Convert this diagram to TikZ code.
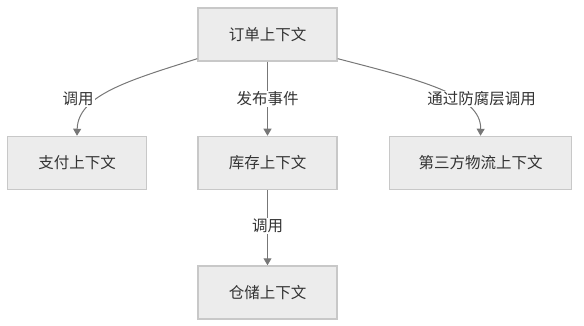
\documentclass[tikz,border=0pt]{standalone}
\usepackage{fontspec}
\setmainfont{Noto Sans CJK SC}
\usepackage{xcolor}
\usetikzlibrary{
    positioning,
    arrows.meta
}

\definecolor{boxfill}{HTML}{ECECEC}
\definecolor{boxline}{HTML}{C8C8C8}
\definecolor{textgray}{HTML}{333333}
\definecolor{linegray}{HTML}{777777}

\begin{document}
\begin{tikzpicture}[
    x=1pt, y=-1pt,
    font=\fontsize{15.5pt}{18pt}\selectfont,
    box/.style={
        rectangle,
        draw=boxline,
        fill=boxfill,
        line width=1.5pt,
        text=textgray,
        align=center,
        inner xsep=29pt,
        minimum width=139pt,
        minimum height=53pt
    },
    lbl/.style={
        fill=white,
        text=textgray,
        inner sep=1pt
    },
    arrow/.style={
        draw=linegray,
        line width=1pt,
        -{Triangle[width=8pt,length=7pt]}
    }
]
\useasboundingbox (0,0) rectangle (584,326);

\node[box] at (267.5,34.5) (order) {订单上下文};
\node[box, below=74pt of order] (stock) {库存上下文};
\node[box, left=50pt of stock] (pay) {支付上下文};
\node[box, right=51pt of stock] (logistics) {第三方物流上下文};
\node[box, below=75pt of stock] (warehouse) {仓储上下文};

\draw[arrow] (order.199) .. controls (130,80) and (78,95) .. (pay.north);
\draw[arrow] (order.341) .. controls (420,80) and (481.5,95) .. (logistics.north);
\draw[arrow] (order) -- (stock);
\draw[arrow] (stock) -- (warehouse);

\node[lbl] at (78,99) (callPay) {调用};
\node[lbl] at (267.5,99) (publish) {发布事件};
\node[lbl] at (481.5,99) (callAcl) {通过防腐层调用};
\node[lbl] at (267.5,226) (callStore) {调用};

\end{tikzpicture}
\end{document}
